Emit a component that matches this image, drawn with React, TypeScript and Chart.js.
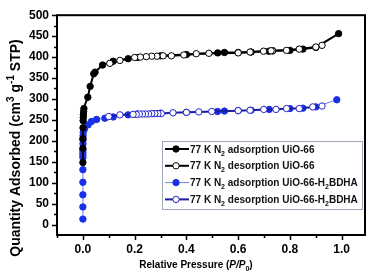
import React, { useEffect, useRef } from "react";
import { Chart, registerables } from "chart.js";

Chart.register(...registerables);

// ---------- data ----------
const uioAdsP = [0.00001, 0.00003, 0.0001, 0.0005, 0.001, 0.0015, 0.002, 0.003, 0.004, 0.019, 0.028, 0.042, 0.047, 0.076, 0.117, 0.175, 0.21, 0.3, 0.4, 0.521, 0.547, 0.6, 0.65, 0.718, 0.733, 0.8, 0.85, 0.9, 0.988];
const uioAdsV = [148, 182, 205, 231, 248, 256, 263, 270, 277, 304, 330, 360, 364, 381, 390, 396, 399, 403, 406, 410, 411, 411, 412, 414, 415, 416, 419, 423, 456];

const uioDesP = [0.924, 0.9, 0.836, 0.787, 0.733, 0.727, 0.698, 0.646, 0.6, 0.487, 0.438, 0.39, 0.342, 0.31, 0.286, 0.266, 0.245, 0.222, 0.2, 0.143, 0.104];
const uioDesV = [428, 424, 419, 416, 415, 415, 414, 412, 410, 409, 408, 405, 403, 403, 402, 402, 401, 400, 399, 392, 385];

const bdhaAdsP = [0.00001, 0.00002, 0.00003, 0.00005, 0.00008, 0.0001, 0.00013, 0.00016, 0.0002, 0.0004, 0.0006, 0.0008, 0.0012, 0.006, 0.02, 0.033, 0.053, 0.085, 0.117, 0.175, 0.21, 0.3, 0.4, 0.52, 0.547, 0.6, 0.65, 0.72, 0.8, 0.85, 0.9, 0.981];
const bdhaAdsV = [13, 42, 71, 101, 131, 160, 166, 172, 178, 193, 202, 212, 220, 228, 238, 246, 251, 254, 257, 262, 264, 266, 268, 270, 271, 272, 273, 275, 277, 278, 281, 298];

const bdhaDesP = [0.924, 0.888, 0.836, 0.787, 0.746, 0.699, 0.646, 0.6, 0.498, 0.448, 0.4, 0.348, 0.303, 0.29, 0.278, 0.266, 0.254, 0.242, 0.23, 0.218, 0.206, 0.194, 0.143, 0.1];
const bdhaDesV = [283, 281, 277, 277, 275, 275, 273, 272, 270, 269, 268, 267, 265, 265, 265, 265, 264, 264, 264, 264, 263, 263, 262, 258];

const xMajorTicks = [0, 0.2, 0.4, 0.6, 0.8, 1.0];
const xMinorTicks = [-0.1, 0.1, 0.3, 0.5, 0.7, 0.9];
const yMajorTicks = [0, 50, 100, 150, 200, 250, 300, 350, 400, 450, 500];
const yMinorTicks = [25, 75, 125, 175, 225, 275, 325, 375, 425, 475];

type Seg = { t: string; k?: "sup" | "sub" | "it" };

const legendRows: { segs: Seg[]; line: string; lw: number; fill: string; stroke: string }[] = [
  { segs: [{ t: "77 K N" }, { t: "2", k: "sub" }, { t: " adsorption UiO-66" }], line: "#000000", lw: 2, fill: "#000000", stroke: "#000000" },
  { segs: [{ t: "77 K N" }, { t: "2", k: "sub" }, { t: " desorption UiO-66" }], line: "#000000", lw: 2, fill: "#ffffff", stroke: "#000000" },
  { segs: [{ t: "77 K N" }, { t: "2", k: "sub" }, { t: " adsorption UiO-66-H" }, { t: "2", k: "sub" }, { t: "BDHA" }], line: "#6a82f0", lw: 1, fill: "#1a30e6", stroke: "#1a30e6" },
  { segs: [{ t: "77 K N" }, { t: "2", k: "sub" }, { t: " desorption UiO-66-H" }, { t: "2", k: "sub" }, { t: "BDHA" }], line: "#1c1ca0", lw: 2, fill: "#ffffff", stroke: "#2424d0" },
];

const yTitle: Seg[] = [{ t: "Quantity Adsorbed (cm" }, { t: "3", k: "sup" }, { t: " g" }, { t: "-1", k: "sup" }, { t: " STP)" }];
const xTitle: Seg[] = [{ t: "Relative Pressure (" }, { t: "P/P", k: "it" }, { t: "0", k: "sub" }, { t: ")" }];

const FAMILY = '"Liberation Sans", Arial, sans-serif';

function segFont(s: Seg, size: number) {
  if (s.k === "sup" || s.k === "sub") return `bold ${Math.round(size * 0.72)}px ${FAMILY}`;
  if (s.k === "it") return `italic bold ${size}px ${FAMILY}`;
  return `bold ${size}px ${FAMILY}`;
}

function segWidth(ctx: CanvasRenderingContext2D, segs: Seg[], size: number) {
  let w = 0;
  for (const s of segs) {
    ctx.font = segFont(s, size);
    w += ctx.measureText(s.t).width;
  }
  return w;
}

function drawSegs(ctx: CanvasRenderingContext2D, segs: Seg[], x: number, y: number, size: number) {
  ctx.textBaseline = "alphabetic";
  ctx.textAlign = "left";
  let cx = x;
  for (const s of segs) {
    ctx.font = segFont(s, size);
    let dy = 0;
    if (s.k === "sup") dy = -size * 0.45;
    if (s.k === "sub") dy = size * 0.3;
    ctx.fillText(s.t, cx, y + dy);
    cx += ctx.measureText(s.t).width;
  }
}

const decorPlugin = {
  id: "decor",
  afterDraw(chart: any) {
    const ctx: CanvasRenderingContext2D = chart.ctx;
    const { left, right, top, bottom } = chart.chartArea;
    const xs = chart.scales.x;
    const ys = chart.scales.y;
    ctx.save();
    // frame
    ctx.strokeStyle = "#000";
    ctx.lineWidth = 2;
    ctx.strokeRect(left, top, right - left, bottom - top);
    // ticks
    ctx.lineWidth = 1.5;
    ctx.beginPath();
    for (const v of xMajorTicks) {
      const px = Math.round(xs.getPixelForValue(v)) + 0.5;
      ctx.moveTo(px, bottom);
      ctx.lineTo(px, bottom + 5);
    }
    for (const v of xMinorTicks) {
      const px = Math.round(xs.getPixelForValue(v)) + 0.5;
      ctx.moveTo(px, bottom);
      ctx.lineTo(px, bottom + 3);
    }
    for (const v of yMajorTicks) {
      const py = Math.round(ys.getPixelForValue(v)) + 0.5;
      ctx.moveTo(left, py);
      ctx.lineTo(left - 5, py);
    }
    for (const v of yMinorTicks) {
      const py = Math.round(ys.getPixelForValue(v)) + 0.5;
      ctx.moveTo(left, py);
      ctx.lineTo(left - 3, py);
    }
    ctx.stroke();

    // axis titles
    ctx.fillStyle = "#000";
    const ySize = 14;
    const yw = segWidth(ctx, yTitle, ySize);
    ctx.save();
    ctx.translate(20, 148);
    ctx.rotate(-Math.PI / 2);
    drawSegs(ctx, yTitle, -yw / 2, 0, ySize);
    ctx.restore();

    const xSize = 10;
    const xw = segWidth(ctx, xTitle, xSize);
    drawSegs(ctx, xTitle, 196 - xw / 2, 268, xSize);

    // legend
    const lx = 162, ly = 141, lw = 200, lh = 68;
    ctx.fillStyle = "#fff";
    ctx.fillRect(lx, ly, lw, lh);
    ctx.strokeStyle = "#a0a8b8";
    ctx.lineWidth = 1;
    ctx.strokeRect(lx + 0.5, ly + 0.5, lw, lh);
    legendRows.forEach((r, i) => {
      const cy = ly + 8 + i * 16.8;
      ctx.strokeStyle = r.line;
      ctx.lineWidth = r.lw;
      ctx.beginPath();
      ctx.moveTo(lx + 3, cy);
      ctx.lineTo(lx + 27, cy);
      ctx.stroke();
      ctx.beginPath();
      ctx.arc(lx + 14, cy, 3.2, 0, Math.PI * 2);
      ctx.fillStyle = r.fill;
      ctx.fill();
      ctx.strokeStyle = r.stroke;
      ctx.lineWidth = 1;
      ctx.stroke();
      ctx.fillStyle = "#111";
      drawSegs(ctx, r.segs, lx + 28, cy + 3.5, 10);
    });
    ctx.restore();
  },
};

function pts(xs: number[], ys: number[]) {
  return xs.map((x, i) => ({ x, y: ys[i] }));
}

export default function App() {
  const ref = useRef<HTMLCanvasElement>(null);
  useEffect(() => {
    const tickFont = { family: FAMILY, size: 12, weight: "bold" as const };
    const chart = new Chart(ref.current!, {
      type: "scatter",
      data: {
        datasets: [
          {
            label: "77 K N2 desorption UiO-66",
            data: pts(uioDesP, uioDesV),
            showLine: true,
            borderColor: "#000",
            borderWidth: 2,
            pointBackgroundColor: "#fff",
            pointBorderColor: "#000",
            pointBorderWidth: 1,
            pointRadius: 3.2,
            order: 0,
          },
          {
            label: "77 K N2 adsorption UiO-66",
            data: pts(uioAdsP, uioAdsV),
            showLine: true,
            borderColor: "#000",
            borderWidth: 2,
            pointBackgroundColor: "#000",
            pointBorderColor: "#000",
            pointBorderWidth: 1,
            pointRadius: 3.2,
            order: 1,
          },
          {
            label: "77 K N2 desorption UiO-66-H2BDHA",
            data: pts(bdhaDesP, bdhaDesV),
            showLine: true,
            borderColor: "#1c1ca0",
            borderWidth: 2,
            pointBackgroundColor: "#fff",
            pointBorderColor: "#2424d0",
            pointBorderWidth: 1,
            pointRadius: 3.2,
            order: 2,
          },
          {
            label: "77 K N2 adsorption UiO-66-H2BDHA",
            data: pts(bdhaAdsP, bdhaAdsV),
            showLine: true,
            borderColor: "#6a82f0",
            borderWidth: 1,
            pointBackgroundColor: "#1a30e6",
            pointBorderColor: "#1a30e6",
            pointBorderWidth: 1,
            pointRadius: 3.2,
            order: 3,
          },
        ],
      },
      options: {
        animation: false,
        responsive: true,
        maintainAspectRatio: false,
        layout: { padding: { top: 7, right: 4, left: 0, bottom: 0 } },
        plugins: { legend: { display: false }, tooltip: { enabled: false } },
        scales: {
          x: {
            type: "linear",
            min: -0.1,
            max: 1.09,
            grid: { display: false, drawTicks: false, tickLength: 0 },
            border: { display: false },
            afterBuildTicks: (s: any) => {
              s.ticks = xMajorTicks.map((v) => ({ value: v }));
            },
            afterFit: (s: any) => {
              s.height = 45;
            },
            ticks: {
              font: tickFont,
              color: "#000",
              padding: 7,
              maxRotation: 0,
              autoSkip: false,
              callback: (v: any) => Number(v).toFixed(1),
            },
          },
          y: {
            type: "linear",
            min: -25,
            max: 500,
            grid: { display: false, drawTicks: false, tickLength: 0 },
            border: { display: false },
            afterBuildTicks: (s: any) => {
              s.ticks = yMajorTicks.map((v) => ({ value: v }));
            },
            afterFit: (s: any) => {
              s.width = 57;
            },
            ticks: {
              font: tickFont,
              color: "#000",
              padding: 8,
              autoSkip: false,
              callback: (v: any) => String(v),
            },
          },
        },
      },
      plugins: [decorPlugin],
    });
    return () => chart.destroy();
  }, []);
  return (
    <div style={{ position: "fixed", left: 0, top: 0, width: 370, height: 280, background: "#fff" }}>
      <canvas ref={ref} />
    </div>
  );
}
